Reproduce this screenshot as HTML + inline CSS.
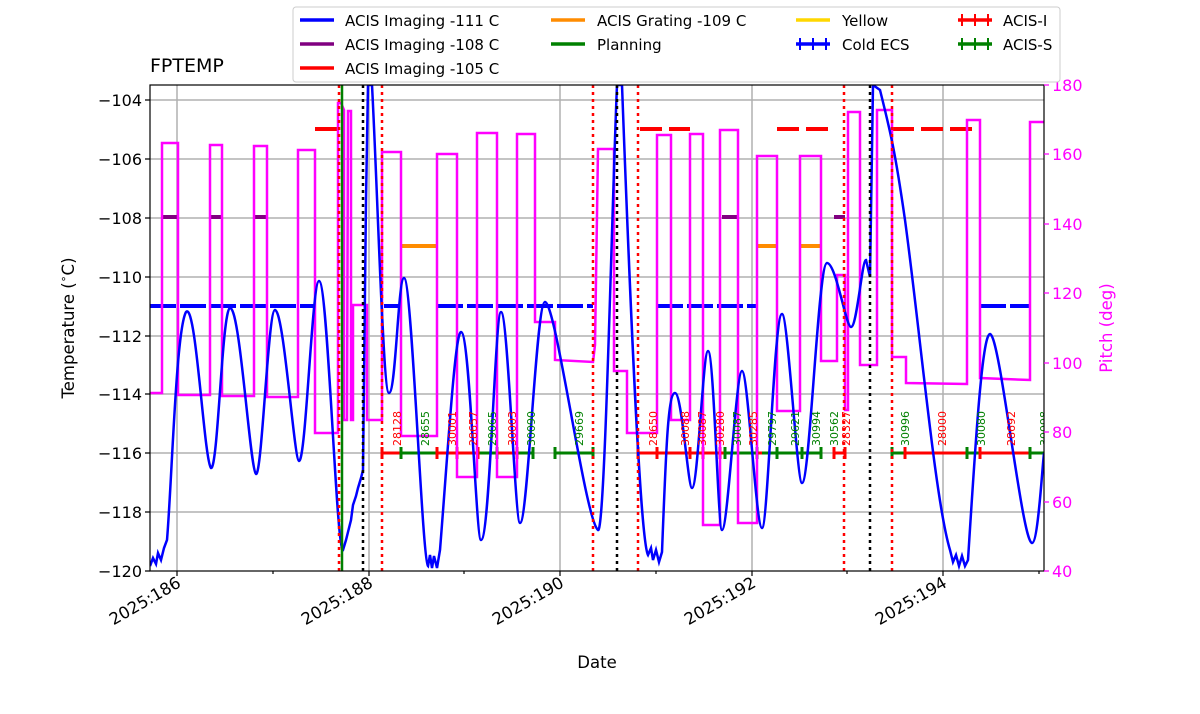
<!DOCTYPE html>
<html><head><meta charset="utf-8"><style>
body{margin:0;background:#fff;}
svg{display:block;font-family:"DejaVu Sans","Liberation Sans",sans-serif;}
</style></head><body>
<svg width="1200" height="714" viewBox="0 0 1200 714" xmlns="http://www.w3.org/2000/svg">
<defs><clipPath id="c"><rect x="150" y="85" width="894" height="486"/></clipPath></defs>
<rect width="1200" height="714" fill="#fff"/>
<g stroke="#b0b0b0" stroke-width="1.5">
<line x1="150" x2="1044" y1="100" y2="100"/><line x1="150" x2="1044" y1="159" y2="159"/>
<line x1="150" x2="1044" y1="218" y2="218"/><line x1="150" x2="1044" y1="277" y2="277"/>
<line x1="150" x2="1044" y1="336" y2="336"/><line x1="150" x2="1044" y1="394" y2="394"/>
<line x1="150" x2="1044" y1="453" y2="453"/><line x1="150" x2="1044" y1="512" y2="512"/>
<line x1="177" x2="177" y1="85" y2="571"/><line x1="369" x2="369" y1="85" y2="571"/>
<line x1="560" x2="560" y1="85" y2="571"/><line x1="752" x2="752" y1="85" y2="571"/>
<line x1="943" x2="943" y1="85" y2="571"/>
</g>
<g clip-path="url(#c)">
<g stroke-width="4" fill="none">
<path stroke="#0000ff" d="M150 306H315M384 306H400M437 306H593M657 306H757M980 306H1030" stroke-dasharray="26,4"/>
<path stroke="#800080" d="M162 217H178M210 217H222M254 217H267M722 217H738M834 217H845"/>
<path stroke="#ff0000" d="M315 129H340M640 129H690M777 129H834M892 129H980" stroke-dasharray="22,7"/>
<path stroke="#ff8c00" d="M401 246H437M757 246H777M800 246H821"/>
</g>
<g stroke-width="3" fill="none">
<path stroke="#ff0000" d="M382 453H401M437 453H478M497 453H517M638 453H725M757 453H762M834 453H845M905 453H967M980 453H1030"/>
<path stroke="#008000" d="M401 453H437M478 453H497M517 453H533M555 453H593M725 453H757M762 453H821M892 453H905M967 453H980M1030 453H1044"/>
<path stroke="#ff0000" d="M382 447V459M437 447V459M457 447V459M478 447V459M517 447V459M638 447V459M657 447V459M690 447V459M703 447V459M720 447V459M834 447V459M845 447V459M905 447V459M980 447V459"/>
<path stroke="#008000" d="M401 447V459M497 447V459M533 447V459M555 447V459M593 447V459M725 447V459M757 447V459M777 447V459M802 447V459M821 447V459M892 447V459M967 447V459M1030 447V459"/>
</g>
<polyline fill="none" stroke="#ff00ff" stroke-width="2.5" points="150,393 162,393 162,143 178,143 178,395 210,395 210,145 222,145 222,396 254,396 254,146 267,146 267,397 298,397 298,150 315,150 315,433 338,433 338,103 341,103 344,110 344,420 347,420 348,111 351,111 351,420 353,420 353,305 367,305 367,420 382,420 382,152 401,152 401,436 437,436 437,154 457,154 457,477 477,477 477,133 497,133 497,477 517,477 517,134 535,134 535,322 555,322 555,360 593,362 595,345 598,149 614,149 614,371 627,371 627,433 640,433 657,433 657,135 671,135 671,420 690,420 690,134 703,134 703,525 720,525 720,130 738,130 738,523 757,523 757,156 777,156 777,411 800,411 800,156 821,156 821,361 837,361 837,275 845,275 845,410 848,410 848,112 860,112 860,365 877,365 877,110 892,110 892,357 906,357 906,383 967,384 967,120 980,120 980,378 1030,380 1030,122 1044,122"/>
<path fill="none" stroke="#0000ff" stroke-width="2.5" d="M150,566 L153,558 156,564 158,553 161,560 164,548 167,540 C172,480 176,330 186,312 C196,300 204,460 211,468 C218,470 222,310 230,308 C240,306 250,470 256,474 C262,476 268,310 275,310 C284,310 294,460 299,461 C306,462 312,281 319,281 C328,281 336,549 343,550 L346,540 348,532 351,520 353,505 356,496 358,488 361,478 363,470 L366,200 368,85 372,85 C378,200 383,393 389,393 C396,393 398,278 404,278 C412,278 422,560 428,566 L430,555 432,568 434,556 437,568 440,550 C448,450 455,332 461,332 C470,332 476,540 481,540 C490,540 495,312 501,312 C508,312 515,523 520,523 C528,523 536,302 545,302 C556,302 585,520 598,530 C605,536 612,200 617,85 L622,85 C630,300 640,540 648,555 L651,548 653,560 656,550 659,562 662,552 C666,450 668,393 675,393 C682,393 688,488 692,488 C698,488 703,351 708,351 C714,351 718,530 722,530 C728,530 736,371 742,371 C748,371 756,528 762,528 C768,528 774,314 782,314 C788,314 797,483 802,483 C810,483 818,263 827,263 C836,263 846,327 851,327 C857,327 862,260 866,260 L870,277 873,85 880,90 C890,130 895,150 905,220 C920,330 935,500 950,550 L953,562 956,555 959,566 962,556 965,566 968,560 C975,450 982,334 990,334 C1000,334 1022,543 1032,543 C1038,543 1042,470 1044,453"/>
<line x1="342" x2="342" y1="85" y2="571" stroke="#008000" stroke-width="2.5"/>
<g stroke-width="2.5" stroke-dasharray="3,4">
<path stroke="#ff0000" d="M339 85V571M382 85V571M593 85V571M638 85V571M844 85V571M892 85V571"/>
<path stroke="#000" d="M363 85V571M617 85V571M870 85V571"/>
</g>
<g font-size="11">
<text transform="translate(401,446) rotate(-90)" fill="#ff0000">28128</text>
<text transform="translate(429,446) rotate(-90)" fill="#008000">28655</text>
<text transform="translate(456,446) rotate(-90)" fill="#ff0000">30001</text>
<text transform="translate(477,446) rotate(-90)" fill="#ff0000">28657</text>
<text transform="translate(496,446) rotate(-90)" fill="#008000">29065</text>
<text transform="translate(516,446) rotate(-90)" fill="#ff0000">30003</text>
<text transform="translate(535,446) rotate(-90)" fill="#008000">30090</text>
<text transform="translate(583,446) rotate(-90)" fill="#008000">29669</text>
<text transform="translate(657,446) rotate(-90)" fill="#ff0000">28650</text>
<text transform="translate(689,446) rotate(-90)" fill="#ff0000">30088</text>
<text transform="translate(706,446) rotate(-90)" fill="#ff0000">30087</text>
<text transform="translate(724,446) rotate(-90)" fill="#ff0000">30280</text>
<text transform="translate(741,446) rotate(-90)" fill="#008000">30087</text>
<text transform="translate(757,446) rotate(-90)" fill="#ff0000">30285</text>
<text transform="translate(776,446) rotate(-90)" fill="#008000">29797</text>
<text transform="translate(799,446) rotate(-90)" fill="#008000">29621</text>
<text transform="translate(820,446) rotate(-90)" fill="#008000">30994</text>
<text transform="translate(838,446) rotate(-90)" fill="#008000">30562</text>
<text transform="translate(850,446) rotate(-90)" fill="#ff0000">28327</text>
<text transform="translate(909,446) rotate(-90)" fill="#008000">30996</text>
<text transform="translate(946,446) rotate(-90)" fill="#ff0000">28000</text>
<text transform="translate(985,446) rotate(-90)" fill="#008000">30080</text>
<text transform="translate(1015,446) rotate(-90)" fill="#ff0000">28692</text>
<text transform="translate(1048,446) rotate(-90)" fill="#008000">30098</text>
</g>
</g>
<rect x="150" y="85" width="894" height="486" fill="none" stroke="#000" stroke-width="1.2"/>
<g stroke="#000" stroke-width="1.2">
<path d="M145 100H150M145 159H150M145 218H150M145 277H150M145 336H150M145 394H150M145 453H150M145 512H150M145 571H150"/>
<path d="M177 571V576M369 571V576M560 571V576M752 571V576M943 571V576M273 571V574M464 571V574M656 571V574M847 571V574M1039 571V574"/>
</g>
<g stroke="#ff00ff" stroke-width="1.2">
<path d="M1044 85H1049M1044 154H1049M1044 224H1049M1044 293H1049M1044 363H1049M1044 432H1049M1044 502H1049M1044 571H1049"/>
</g>
<g font-size="16" fill="#000" text-anchor="end">
<text x="142" y="106">−104</text><text x="142" y="165">−106</text><text x="142" y="224">−108</text>
<text x="142" y="283">−110</text><text x="142" y="342">−112</text><text x="142" y="400">−114</text>
<text x="142" y="459">−116</text><text x="142" y="518">−118</text><text x="142" y="577">−120</text>
</g>
<g font-size="16" fill="#ff00ff">
<text x="1052" y="91">180</text><text x="1052" y="160">160</text><text x="1052" y="230">140</text>
<text x="1052" y="299">120</text><text x="1052" y="369">100</text><text x="1052" y="438">80</text>
<text x="1052" y="508">60</text><text x="1052" y="577">40</text>
</g>
<g font-size="16.5" fill="#000" text-anchor="end">
<text transform="translate(182,586) rotate(-30)">2025:186</text>
<text transform="translate(374,586) rotate(-30)">2025:188</text>
<text transform="translate(565,586) rotate(-30)">2025:190</text>
<text transform="translate(757,586) rotate(-30)">2025:192</text>
<text transform="translate(948,586) rotate(-30)">2025:194</text>
</g>
<text x="597" y="668" font-size="16.5" text-anchor="middle">Date</text>
<text transform="translate(74,328) rotate(-90)" font-size="16.5" text-anchor="middle">Temperature (<tspan font-size="11" dy="-7">∘</tspan><tspan dy="7">C)</tspan></text>
<text transform="translate(1112,328) rotate(-90)" font-size="16.5" fill="#ff00ff" text-anchor="middle">Pitch (deg)</text>
<text x="150" y="72" font-size="19">FPTEMP</text>
<rect x="293" y="7" width="767" height="75" rx="3" fill="#fff" stroke="#ccc"/>
<g stroke-width="3.5">
<line x1="300" x2="334" y1="20" y2="20" stroke="#0000ff"/>
<line x1="300" x2="334" y1="44" y2="44" stroke="#800080"/>
<line x1="300" x2="334" y1="68" y2="68" stroke="#ff0000"/>
<line x1="551" x2="585" y1="20" y2="20" stroke="#ff8c00"/>
<line x1="551" x2="585" y1="44" y2="44" stroke="#008000"/>
<line x1="796" x2="830" y1="20" y2="20" stroke="#ffd700"/>
<line x1="796" x2="830" y1="44" y2="44" stroke="#0000ff"/>
<line x1="958" x2="992" y1="20" y2="20" stroke="#ff0000"/>
<line x1="958" x2="992" y1="44" y2="44" stroke="#008000"/>
</g>
<g stroke-width="2">
<path stroke="#0000ff" d="M800 38V50M813 38V50M826 38V50"/>
<path stroke="#ff0000" d="M962 14V26M975 14V26M988 14V26"/>
<path stroke="#008000" d="M962 38V50M975 38V50M988 38V50"/>
</g>
<g font-size="15">
<text x="345" y="26">ACIS Imaging -111 C</text>
<text x="345" y="50">ACIS Imaging -108 C</text>
<text x="345" y="74">ACIS Imaging -105 C</text>
<text x="597" y="26">ACIS Grating -109 C</text>
<text x="597" y="50">Planning</text>
<text x="842" y="26">Yellow</text>
<text x="842" y="50">Cold ECS</text>
<text x="1003" y="26">ACIS-I</text>
<text x="1003" y="50">ACIS-S</text>
</g>
</svg>
</body></html>
